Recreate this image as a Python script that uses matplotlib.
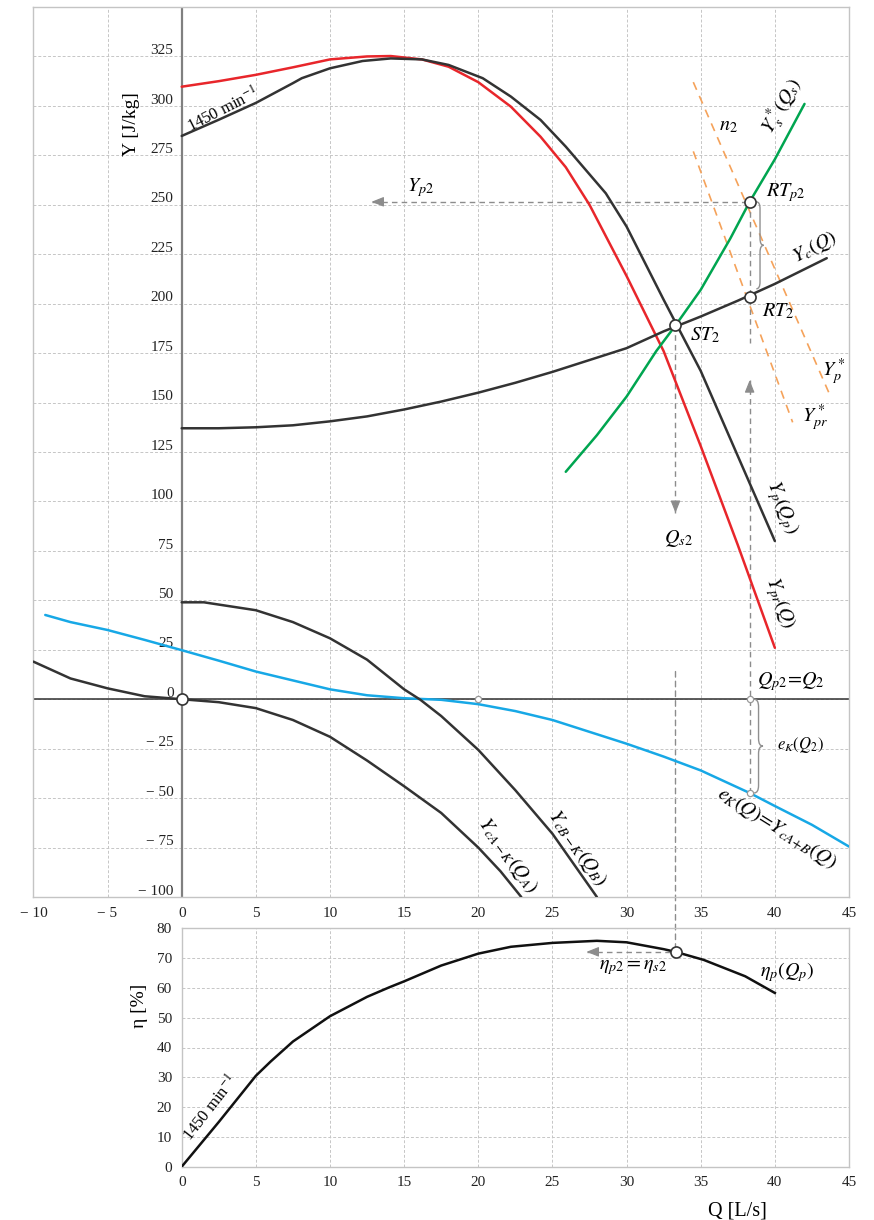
import matplotlib
matplotlib.use("Agg")
import matplotlib.pyplot as plt
from matplotlib.patches import ConnectionPatch, PathPatch
from matplotlib.path import Path

plt.rcParams['font.family'] = ['Liberation Serif', 'DejaVu Serif']
plt.rcParams['mathtext.fontset'] = 'stix'

# ---- pump head curve Yp(Qp) at 1450 min^-1 ----
q_pump = [0, 2.5, 5, 7.5, 8.1, 10, 12.2, 14.1, 16.2, 18, 20.3, 22.2, 24.2, 25.9, 28.6, 30, 32.5, 35, 37.5, 40]
y_pump = [284.8, 293, 301.5, 311.5, 314, 319, 322.7, 324, 323.5, 320.7, 314, 304.7, 292.9, 279.4, 255.8, 239, 202, 166, 123, 80]

# ---- reduced pump curve Ypr(Q) ----
q_pr = [0, 2.5, 5, 7.5, 10, 12.5, 14.1, 16.2, 18, 20, 22.2, 24.2, 25.9, 27.5, 30, 32.5, 35, 37.5, 40]
y_pr = [309.7, 312.5, 315.7, 319.5, 323.5, 325, 325.2, 323.5, 319.8, 312, 299.6, 284.4, 269, 250, 214, 176, 128, 78, 26]

# ---- system curve Yc(Q) ----
q_sys = [0, 2.5, 5, 7.5, 10, 12.5, 15, 17.5, 20, 22.5, 25, 27.5, 30, 32.5, 35, 37.5, 40, 43.5]
y_sys = [137, 137, 137.5, 138.5, 140.5, 143, 146.5, 150.5, 155, 160, 165.5, 171.5, 177.5, 186, 193.5, 201.5, 210, 223]

# ---- equivalent curve Ys*(Qs) ----
q_s = [25.9, 28, 30, 32, 33.3, 35, 37, 38.3, 40, 42]
y_s = [115, 133.5, 153, 176, 189, 207, 233, 251.5, 273, 301]

# ---- n2 lines Yp* and Ypr* (end points) ----
q_np = [34.5, 43.7]
y_np = [312, 154]
q_npr = [34.5, 41.2]
y_npr = [277, 140]

# ---- e_K(Q) = Y_cA+B(Q) ----
q_ek = [-9.2, -7.5, -5, -2.5, 0, 2.5, 5, 7.5, 10, 12.5, 15, 17.5, 20, 22.5, 25, 27.5, 30, 32.5, 35, 38.3, 40, 42.5, 45]
y_ek = [42.6, 39, 35, 30, 24.8, 19.5, 14, 9.5, 5, 2, 0.5, -0.3, -2.5, -6, -10.5, -16.5, -22.5, -29, -36, -47.4, -54, -63.5, -74.5]

# ---- branch curves ----
q_a = [-10, -7.5, -5, -2.5, 0, 2.5, 5, 7.5, 10, 12.5, 15, 17.5, 20, 21.5, 22.9]
y_a = [19, 10.5, 5.5, 1.5, 0, -1.5, -4.5, -10.5, -19, -31, -44, -57.5, -75, -87, -100]
q_b = [0, 1.5, 5, 7.5, 10, 12.5, 15, 16.1, 17.5, 20, 22.5, 25, 28]
y_b = [49, 49, 45, 39, 30.8, 20, 5, -0.3, -8.5, -25.6, -46, -68, -100]

# ---- pump efficiency ----
q_eta = [0, 1, 2.5, 5, 6, 7.5, 10, 12.5, 14, 15, 17.5, 20, 22.2, 25, 28, 30, 32.5, 33.3, 35.2, 38, 40]
eta = [0, 6, 15, 30.5, 35.3, 42, 50.5, 57, 60.2, 62.2, 67.5, 71.5, 73.8, 75.1, 75.8, 75.3, 73, 72.1, 69.4, 63.9, 58.3]

# ---- operating points ----
q_st2, y_st2 = 33.3, 189
q_rt2 = 38.3
y_rtp2 = 251.5
y_rt2 = 203.5
ek_q2 = -47.4
eta_s2 = 72.1

y_ticks = [-100, -75, -50, -25, 0, 25, 50, 75, 100, 125, 150, 175, 200, 225, 250, 275, 300, 325]
x_ticks = [-10, -5, 0, 5, 10, 15, 20, 25, 30, 35, 40, 45]
eta_ticks = [0, 10, 20, 30, 40, 50, 60, 70, 80]


def signed(v):
    return ('\u2212 ' + str(abs(v))) if v < 0 else str(v)


GRAY = '#8c8c8c'
DARK = '#333333'
RED = '#e8262b'
GREEN = '#00a550'
BLUE = '#17a8e6'
ORANGE = '#f5a25a'
SPINE = '#c4c4c4'
DASH = (0, (4, 3))

fig = plt.figure(figsize=(8.74, 12.2), dpi=100)
W, H = 874, 1220
ax1 = fig.add_axes([33.4 / W, 1 - 897 / H, (849 - 33.4) / W, (897 - 7) / H])
ax2 = fig.add_axes([181.7 / W, 1 - 1166.7 / H, (849 - 181.7) / W, (1166.7 - 928.3) / H])
for ax in (ax1, ax2):
    ax.patch.set_alpha(0)
    for s in ax.spines.values():
        s.set_color(SPINE)
        s.set_linewidth(1.0)
    ax.grid(True, linestyle=(0, (3, 2)), color='#c6c6c6', lw=0.7)
    ax.set_axisbelow(True)

# ---------------- upper chart ----------------
ax1.set_xlim(-10, 45)
ax1.set_ylim(-100, 350)
ax1.set_xticks(x_ticks)
ax1.set_xticklabels([signed(v) for v in x_ticks])
ax1.set_yticks(y_ticks + [350])
ax1.set_yticklabels([])
ax1.tick_params(length=0, labelsize=11, pad=7, colors='#222222')
for v in y_ticks:
    ax1.text(-0.55, v + 1.2, signed(v), ha='right', va='baseline', fontsize=11, color='#222222')
ax1.text(-3.4, 291, 'Y [J/kg]', rotation=90, ha='center', va='center', fontsize=14)

ax1.axvline(0, color='#808080', lw=1.6, zorder=2)
ax1.axhline(0, color='#404040', lw=1.2, zorder=2)

ax1.plot(q_np, y_np, color=ORANGE, lw=1.2, ls=(0, (5, 4)), zorder=3)
ax1.plot(q_npr, y_npr, color=ORANGE, lw=1.2, ls=(0, (5, 4)), zorder=3)

line_kw = dict(lw=1.8, zorder=4, solid_joinstyle='round', solid_capstyle='round')
ax1.plot(q_pr, y_pr, color=RED, **line_kw)
ax1.plot(q_pump, y_pump, color=DARK, **line_kw)
ax1.plot(q_sys, y_sys, color=DARK, **line_kw)
ax1.plot(q_s, y_s, color=GREEN, **line_kw)
ax1.plot(q_ek, y_ek, color=BLUE, **line_kw)
ax1.plot(q_a, y_a, color=DARK, **line_kw)
ax1.plot(q_b, y_b, color=DARK, **line_kw)


def arrowhead(ax, tip, offset):
    ax.annotate('', xy=tip, xytext=offset, textcoords='offset points',
                arrowprops=dict(arrowstyle='-|>,head_length=0.75,head_width=0.3',
                                color=GRAY, lw=0.8, shrinkA=0, shrinkB=0, mutation_scale=10),
                zorder=5)


def brace(ax, x, ytop, ybot, w):
    ym = (ytop + ybot) / 2
    d = (ytop - ybot) * 0.08
    xm = x + w / 2
    verts = [(x, ytop), (xm, ytop), (xm, ytop - d), (xm, ym + d), (xm, ym), (x + w, ym),
             (xm, ym), (xm, ym - d), (xm, ybot + d), (xm, ybot), (x, ybot)]
    codes = [Path.MOVETO, Path.CURVE3, Path.CURVE3, Path.LINETO, Path.CURVE3, Path.CURVE3,
             Path.CURVE3, Path.CURVE3, Path.LINETO, Path.CURVE3, Path.CURVE3]
    ax.add_patch(PathPatch(Path(verts, codes), fill=False, edgecolor='#909090', lw=1.0, zorder=5))


# guide lines
ax1.plot([12.8, q_rt2], [y_rtp2, y_rtp2], color=GRAY, lw=1.0, ls=DASH, zorder=3)
arrowhead(ax1, (12.8, y_rtp2), (8, 0))
ax1.plot([q_st2, q_st2], [y_st2, 94.2], color=GRAY, lw=1.0, ls=DASH, zorder=3)
arrowhead(ax1, (q_st2, 94.2), (0, 8))
ax1.plot([q_rt2, q_rt2], [y_rtp2, 180], color=GRAY, lw=1.0, ls=DASH, zorder=3)
ax1.plot([q_rt2, q_rt2], [ek_q2, 161.3], color=GRAY, lw=1.0, ls=DASH, zorder=3)
arrowhead(ax1, (q_rt2, 161.3), (0, -8))

con = ConnectionPatch(xyA=(q_st2, 14), coordsA=ax1.transData,
                      xyB=(q_st2, eta_s2), coordsB=ax2.transData,
                      color=GRAY, lw=1.0, linestyle=DASH)
con.set_zorder(-1)
fig.add_artist(con)

brace(ax1, 38.75, y_rtp2, y_rt2 + 4, 0.5)
brace(ax1, 38.6, 0, ek_q2, 0.6)

# marked points
big = dict(marker='o', ms=8, mfc='white', mec='#333333', mew=1.2, ls='none', zorder=6)
small = dict(marker='o', ms=4.5, mfc='white', mec='#999999', mew=0.9, ls='none', zorder=6)
ax1.plot([q_st2], [y_st2], **big)
ax1.plot([q_rt2], [y_rtp2], **big)
ax1.plot([q_rt2], [y_rt2], **big)
ax1.plot([0], [0], **big)
ax1.plot([20, q_rt2, q_rt2], [0, 0, ek_q2], **small)

# labels
FS = 14.5
ax1.text(2.8, 298, '1450 min$^{-1}$', rotation=27, ha='center', va='center',
         rotation_mode='anchor', fontsize=12)
ax1.text(16.1, 258.7, '$Y_{p2}$', ha='center', va='center', fontsize=FS)
ax1.text(36.9, 289.8, '$n_2$', ha='center', va='center', fontsize=FS)
ax1.text(40.5, 300, '$Y_s^*(Q_s)$', rotation=60, ha='center', va='center',
         rotation_mode='anchor', fontsize=FS)
ax1.text(40.75, 256.2, '$RT_{p2}$', ha='center', va='center', fontsize=FS)
ax1.text(42.7, 228.8, '$Y_c(Q)$', rotation=28, ha='center', va='center',
         rotation_mode='anchor', fontsize=FS)
ax1.text(40.2, 196.3, '$RT_2$', ha='center', va='center', fontsize=FS)
ax1.text(35.3, 183.7, '$ST_2$', ha='center', va='center', fontsize=FS)
ax1.text(44.0, 165.5, '$Y_p^*$', ha='center', va='center', fontsize=FS)
ax1.text(42.7, 142.5, '$Y_{pr}^*$', ha='center', va='center', fontsize=FS)
ax1.text(40.45, 96.7, '$Y_p(Q_p)$', rotation=-68, ha='center', va='center',
         rotation_mode='anchor', fontsize=FS)
ax1.text(40.3, 48.7, '$Y_{pr}(Q)$', rotation=-70, ha='center', va='center',
         rotation_mode='anchor', fontsize=FS)
ax1.text(33.5, 81.5, '$Q_{s2}$', ha='center', va='center', fontsize=FS)
ax1.text(41.1, 8.9, '$Q_{p2}\\!=\\!Q_2$', ha='center', va='center', fontsize=FS)
ax1.text(41.7, -23.1, '$e_K(Q_2)$', ha='center', va='center', fontsize=12)
ax1.text(40.1, -65, '$e_K(Q)\\!=\\!Y_{cA\\!+\\!B}(Q)$', rotation=-32, ha='center', va='center',
         rotation_mode='anchor', fontsize=FS)
ax1.text(26.7, -75, '$Y_{cB-K}(Q_B)$', rotation=-55, ha='center', va='center',
         rotation_mode='anchor', fontsize=FS)
ax1.text(22.0, -79.1, '$Y_{cA-K}(Q_A)$', rotation=-54, ha='center', va='center',
         rotation_mode='anchor', fontsize=FS)

# ---------------- efficiency chart ----------------
ax2.set_xlim(0, 45)
ax2.set_ylim(0, 80)
ax2.set_xticks(x_ticks[2:])
ax2.set_yticks(eta_ticks)
ax2.tick_params(length=0, labelsize=11, pad=7, colors='#222222')
ax2.set_ylabel('\u03b7 [%]', fontsize=14, labelpad=6)
ax2.set_xlabel('Q [L/s]', fontsize=14.5, labelpad=6)
ax2.xaxis.set_label_coords(0.833, -0.145)
ax2.yaxis.set_label_coords(-0.05, 0.675)

ax2.plot(q_eta, eta, color='#111111', lw=1.8, zorder=4, solid_joinstyle='round')
ax2.plot([27.3, q_st2], [eta_s2, eta_s2], color=GRAY, lw=1.0, ls=DASH, zorder=3)
arrowhead(ax2, (27.3, eta_s2), (8, 0))
ax2.plot([q_st2], [eta_s2], **big)

ax2.text(2.0, 19.7, '1450 min$^{-1}$', rotation=52, ha='center', va='center',
         rotation_mode='anchor', fontsize=12)
ax2.text(30.4, 66.7, '$\\eta_{p2}=\\eta_{s2}$', ha='center', va='center', fontsize=FS)
ax2.text(40.85, 65.4, '$\\eta_p(Q_p)$', ha='center', va='center', fontsize=FS)

fig.savefig('out.png', dpi=100, facecolor='white')
